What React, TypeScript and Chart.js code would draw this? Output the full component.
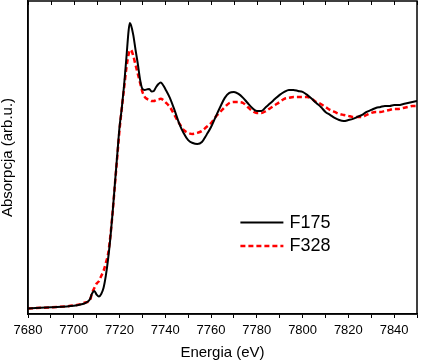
import React, { useEffect, useRef } from "react";
import { Chart, registerables } from "chart.js";

Chart.register(...registerables);

const FONT = "'Liberation Sans', Arial, sans-serif";

// Energy (eV)
const energy = [
  7680, 7690, 7700, 7703, 7705, 7707, 7708, 7709, 7710, 7711, 7712, 7713, 7714,
  7715, 7716, 7717, 7718, 7719, 7720, 7721, 7722, 7723, 7724, 7724.5, 7725, 7726,
  7727, 7728, 7729, 7730, 7731, 7732, 7733, 7734, 7735, 7736, 7737, 7738, 7739,
  7740, 7742, 7744, 7746, 7748, 7750, 7752, 7754, 7756, 7758, 7760, 7762, 7764,
  7766, 7768, 7770, 7772, 7774, 7776, 7778, 7780, 7782, 7784, 7786, 7788, 7790,
  7792, 7794, 7796, 7798, 7800, 7802, 7804, 7806, 7808, 7810, 7812, 7814, 7816,
  7818, 7820, 7822, 7824, 7826, 7828, 7830, 7832, 7834, 7836, 7838, 7840, 7842,
  7844, 7846, 7848, 7850,
];

// Normalised absorption, sample F175
const f175 = [
  -0.002, 0.004, 0.012, 0.018, 0.025, 0.043, 0.073, 0.086, 0.068, 0.058, 0.071, 0.101, 0.162,
  0.247, 0.354, 0.485, 0.631, 0.773, 0.914, 1.01, 1.126, 1.263, 1.404, 1.439, 1.429, 1.379,
  1.303, 1.232, 1.152, 1.106, 1.101, 1.104, 1.106, 1.093, 1.096, 1.116, 1.131, 1.139, 1.126,
  1.106, 1.061, 1.0, 0.934, 0.884, 0.848, 0.833, 0.828, 0.838, 0.874, 0.914, 0.965, 1.015,
  1.061, 1.086, 1.091, 1.081, 1.061, 1.035, 1.01, 0.995, 0.995, 1.015, 1.035, 1.056, 1.076,
  1.091, 1.101, 1.101, 1.096, 1.091, 1.076, 1.056, 1.035, 1.015, 0.99, 0.975, 0.96, 0.949,
  0.944, 0.949, 0.955, 0.965, 0.975, 0.99, 1.0, 1.01, 1.015, 1.02, 1.02, 1.025, 1.025,
  1.03, 1.035, 1.04, 1.045,
];

// Normalised absorption, sample F328
const f328 = [
  -0.002, 0.004, 0.013, 0.02, 0.028, 0.038, 0.076, 0.101, 0.124, 0.136, 0.162, 0.187, 0.227,
  0.273, 0.364, 0.485, 0.626, 0.763, 0.899, 1.01, 1.111, 1.212, 1.283, 1.301, 1.303, 1.273,
  1.227, 1.182, 1.136, 1.091, 1.066, 1.056, 1.051, 1.045, 1.045, 1.051, 1.053, 1.056, 1.051,
  1.04, 1.015, 0.975, 0.934, 0.899, 0.884, 0.879, 0.884, 0.894, 0.914, 0.934, 0.965, 0.99,
  1.015, 1.035, 1.04, 1.04, 1.035, 1.015, 0.995, 0.985, 0.985, 0.995, 1.01, 1.025, 1.04,
  1.056, 1.061, 1.066, 1.066, 1.066, 1.066, 1.056, 1.04, 1.03, 1.015, 1.0, 0.99, 0.98,
  0.975, 0.97, 0.965, 0.965, 0.965, 0.975, 0.985, 0.99, 0.99, 0.995, 1.0, 1.005, 1.005,
  1.01, 1.015, 1.02, 1.02,
];

const seriesNames = ["F175", "F328"];
const xMin = 7680;
const xMax = 7850;
const xTickStep = 10;
const xLabelStep = 20;
const yMin = -0.03;
const yMax = 1.55;
const xTitle = "Energia (eV)";
const yTitle = "Absorpcja (arb.u.)";

const framePlugin = {
  id: "frameAndLegend",
  afterDraw(chart: any) {
    const { ctx, chartArea: a, scales } = chart;
    ctx.save();
    ctx.strokeStyle = "#000";
    ctx.lineWidth = 1.5;
    ctx.setLineDash([]);
    ctx.strokeRect(a.left, a.top, a.right - a.left, a.bottom - a.top);
    // inward ticks on the top edge
    ctx.lineWidth = 1;
    scales.x.ticks.forEach((t: any) => {
      const px = Math.round(scales.x.getPixelForValue(t.value)) + 0.5;
      ctx.beginPath();
      ctx.moveTo(px, a.top);
      ctx.lineTo(px, a.top + 4);
      ctx.stroke();
    });
    // legend inside the plot
    const w = a.right - a.left;
    const h = a.bottom - a.top;
    const lx = a.left + 0.546 * w;
    const ly = a.top + 0.708 * h;
    const rowH = 23.5;
    const lineLen = 43;
    ctx.font = `18px ${FONT}`;
    ctx.textBaseline = "middle";
    ctx.textAlign = "left";
    chart.data.datasets.forEach((ds: any, i: number) => {
      const y = ly + i * rowH;
      ctx.beginPath();
      ctx.strokeStyle = ds.borderColor;
      ctx.lineWidth = ds.borderWidth;
      ctx.setLineDash(ds.borderDash || []);
      ctx.moveTo(lx, y);
      ctx.lineTo(lx + lineLen, y);
      ctx.stroke();
      ctx.setLineDash([]);
      ctx.fillStyle = "#000";
      ctx.fillText(ds.label, lx + lineLen + 6, y);
    });
    ctx.restore();
  },
};

export default function App() {
  const ref = useRef<HTMLCanvasElement | null>(null);
  useEffect(() => {
    if (!ref.current) return;
    const chart = new Chart(ref.current, {
      type: "line",
      data: {
        datasets: [
          {
            label: seriesNames[0],
            data: energy.map((e, i) => ({ x: e, y: f175[i] })),
            borderColor: "#000000",
            borderWidth: 2,
            pointRadius: 0,
            cubicInterpolationMode: "monotone",
            fill: false,
          },
          {
            label: seriesNames[1],
            data: energy.map((e, i) => ({ x: e, y: f328[i] })),
            borderColor: "#ff0000",
            borderWidth: 2.5,
            borderDash: [5, 3],
            pointRadius: 0,
            cubicInterpolationMode: "monotone",
            fill: false,
          },
        ],
      },
      options: {
        animation: false,
        responsive: false,
        devicePixelRatio: 1,
        layout: { padding: { top: 1, right: 2.5, bottom: 0, left: 0 } },
        plugins: { legend: { display: false }, tooltip: { enabled: false } },
        scales: {
          x: {
            type: "linear",
            min: xMin,
            max: xMax,
            afterFit: (s: any) => {
              s.height = 50;
            },
            ticks: {
              stepSize: xTickStep,
              autoSkip: false,
              maxRotation: 0,
              padding: 5,
              color: "#000",
              font: { family: FONT, size: 13 },
              callback: (v: any) => (Number(v) % xLabelStep === 0 ? String(v) : ""),
            },
            grid: {
              display: true,
              drawOnChartArea: false,
              drawTicks: true,
              tickLength: 4,
              color: "#000",
              lineWidth: 1,
            },
            border: { display: true, color: "#000", width: 1.5 },
            title: {
              display: true,
              text: xTitle,
              color: "#000",
              font: { family: FONT, size: 15 },
              padding: { top: 0, bottom: 2 },
            },
          },
          y: {
            type: "linear",
            min: yMin,
            max: yMax,
            afterFit: (s: any) => {
              s.width = 28;
            },
            ticks: { display: false },
            grid: { display: false, drawTicks: false },
            border: { display: true, color: "#000", width: 1.5 },
            title: {
              display: true,
              text: yTitle,
              color: "#000",
              font: { family: FONT, size: 15, lineHeight: 1 },
              padding: { top: 0, bottom: 0 },
            },
          },
        },
      },
      plugins: [framePlugin],
    } as any);
    return () => chart.destroy();
  }, []);
  return (
    <div style={{ position: "fixed", left: 0, top: 0, width: 422, height: 364, background: "#fff" }}>
      <canvas ref={ref} width={422} height={364} style={{ width: 422, height: 364, display: "block" }} />
    </div>
  );
}
